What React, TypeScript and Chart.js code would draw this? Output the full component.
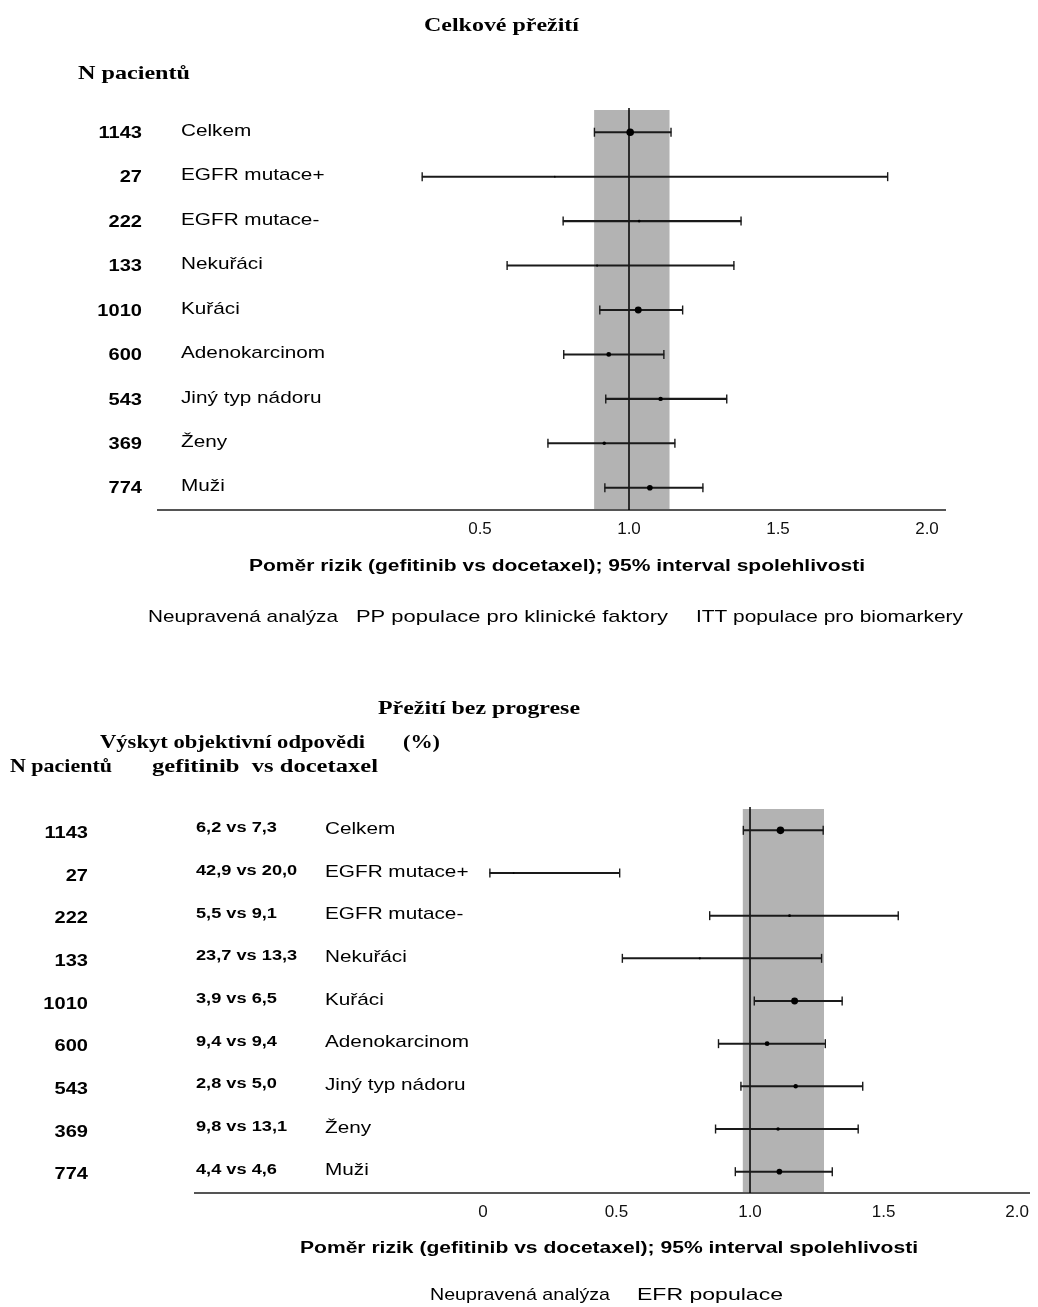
import React, { useEffect, useRef } from "react";
import { Chart, registerables } from "chart.js";

Chart.register(...registerables);

// ---------- DATA ----------
const categories = ["Celkem", "EGFR mutace+", "EGFR mutace-", "Nekuřáci", "Kuřáci", "Adenokarcinom", "Jiný typ nádoru", "Ženy", "Muži"];
const patients = [1143, 27, 222, 133, 1010, 600, 543, 369, 774];

// Overall survival (top)
const osHR = [1.004, 0.751, 1.034, 0.893, 1.031, 0.932, 1.106, 0.917, 1.07];
const osLow = [0.884, 0.306, 0.779, 0.591, 0.902, 0.781, 0.922, 0.728, 0.919];
const osHigh = [1.141, 1.868, 1.376, 1.352, 1.18, 1.117, 1.328, 1.154, 1.248];
const osBand = [0.883, 1.136];
const osTicks = [0.5, 1.0, 1.5, 2.0];

// Progression-free survival (bottom)
const pfsORR = ["6,2 vs 7,3", "42,9 vs 20,0", "5,5 vs 9,1", "23,7 vs 13,3", "3,9 vs 6,5", "9,4 vs 9,4", "2,8 vs 5,0", "9,8 vs 13,1", "4,4 vs 4,6"];
const pfsHR = [1.114, 0.115, 1.148, 0.812, 1.167, 1.064, 1.171, 1.105, 1.11];
const pfsLow = [0.975, 0.026, 0.849, 0.522, 1.016, 0.882, 0.966, 0.871, 0.945];
const pfsHigh = [1.274, 0.512, 1.555, 1.268, 1.345, 1.282, 1.422, 1.405, 1.308];
const pfsBand = [0.973, 1.277];
const pfsTicks = [0, 0.5, 1.0, 1.5, 2.0];

const SANS = "'Liberation Sans', Arial, sans-serif";
const SERIF = "'Liberation Serif', 'Times New Roman', serif";

function drawText(ctx: CanvasRenderingContext2D, text: string, x: number, y: number, font: string, align: CanvasTextAlign, sx = 1, width?: number) {
  ctx.save();
  ctx.font = font;
  ctx.fillStyle = "#000";
  ctx.textBaseline = "middle";
  ctx.textAlign = align;
  let s = sx;
  if (width) s = width / ctx.measureText(text).width;
  ctx.translate(x, y);
  ctx.scale(s, 1);
  ctx.fillText(text, 0, 0);
  ctx.restore();
}

type Cfg = {
  hr: number[];
  low: number[];
  high: number[];
  band: number[];
  ticks: number[];
  min: number;
  max: number;
  padding: { left: number; right: number; top: number; bottom: number };
  tickFmt: (v: number) => string;
  drawTexts: (ctx: CanvasRenderingContext2D, rowY: (i: number) => number) => void;
};

function makeChart(canvas: HTMLCanvasElement, cfg: Cfg) {
  const radius = patients.map((n) => 0.8 + 3 * (n / 1143));
  const overlay = {
    id: "forestOverlay",
    beforeDatasetsDraw(chart: any) {
      const { ctx, chartArea } = chart;
      const xs = chart.scales.x;
      const x0 = xs.getPixelForValue(cfg.band[0]);
      const x1 = xs.getPixelForValue(cfg.band[1]);
      ctx.save();
      ctx.fillStyle = "#b3b3b3";
      ctx.fillRect(x0, chartArea.top, x1 - x0, chartArea.bottom - chartArea.top - 1);
      const xr = xs.getPixelForValue(1);
      ctx.strokeStyle = "#000";
      ctx.lineWidth = 1.5;
      ctx.beginPath();
      ctx.moveTo(xr, chartArea.top - 2);
      ctx.lineTo(xr, chartArea.bottom);
      ctx.stroke();
      ctx.restore();
    },
    afterDraw(chart: any) {
      const ys = chart.scales.y;
      cfg.drawTexts(chart.ctx, (i: number) => ys.getPixelForValue(i));
    },
  };
  return new Chart(canvas, {
    type: "bar",
    data: {
      labels: categories,
      datasets: [
        {
          type: "line",
          indexAxis: "y",
          data: cfg.hr,
          showLine: false,
          pointStyle: "circle",
          pointRadius: radius,
          pointBackgroundColor: "#000",
          pointBorderWidth: 0,
          order: 0,
        } as any,
        {
          type: "line",
          indexAxis: "y",
          data: cfg.low,
          showLine: false,
          pointStyle: "line",
          rotation: 90,
          pointRadius: 4.5,
          pointBorderColor: "#1a1a1a",
          pointBorderWidth: 1.4,
          order: 1,
        } as any,
        {
          type: "line",
          indexAxis: "y",
          data: cfg.high,
          showLine: false,
          pointStyle: "line",
          rotation: 90,
          pointRadius: 4.5,
          pointBorderColor: "#1a1a1a",
          pointBorderWidth: 1.4,
          order: 1,
        } as any,
        {
          type: "bar",
          data: cfg.low.map((l, i) => [l, cfg.high[i]]),
          backgroundColor: "#1a1a1a",
          barThickness: 1.4,
          borderWidth: 0,
          order: 2,
        } as any,
      ],
    },
    options: {
      indexAxis: "y",
      responsive: false,
      animation: false,
      events: [],
      devicePixelRatio: 1,
      layout: { padding: cfg.padding },
      plugins: { legend: { display: false }, tooltip: { enabled: false } },
      scales: {
        x: {
          type: "linear",
          min: cfg.min,
          max: cfg.max,
          grid: { display: false, drawTicks: false },
          border: { display: true, color: "#555", width: 2 },
          afterBuildTicks: (s: any) => {
            s.ticks = cfg.ticks.map((v) => ({ value: v }));
          },
          afterFit: (s: any) => {
            s.height = 40;
          },
          ticks: {
            font: { family: SANS, size: 17 },
            color: "#111",
            padding: 9,
            autoSkip: false,
            maxRotation: 0,
            callback: (v: any) => cfg.tickFmt(Number(v)),
          },
        },
        y: { type: "category", display: false, offset: true },
      },
    } as any,
    plugins: [overlay],
  });
}

function App() {
  const topRef = useRef<HTMLCanvasElement>(null);
  const botRef = useRef<HTMLCanvasElement>(null);

  useEffect(() => {
    const top = makeChart(topRef.current!, {
      hr: osHR,
      low: osLow,
      high: osHigh,
      band: osBand,
      ticks: osTicks,
      min: 1 - 471 / 298,
      max: 1 + 316 / 298,
      padding: { left: 158, right: 93, top: 110, bottom: 100 },
      tickFmt: (v) => v.toFixed(1),
      drawTexts: (ctx, rowY) => {
        drawText(ctx, "Celkové přežití", 424, 26, `bold 19px ${SERIF}`, "left", 1, 155);
        drawText(ctx, "N pacientů", 78, 74, `bold 19px ${SERIF}`, "left", 1, 112);
        categories.forEach((c, i) => {
          const y = rowY(i);
          drawText(ctx, String(patients[i]), 142, y + 1, `bold 17px ${SANS}`, "right", 1.18);
          drawText(ctx, c, 181, y - 1, `17px ${SANS}`, "left", 1.22);
        });
        drawText(ctx, "Poměr rizik (gefitinib vs docetaxel); 95% interval spolehlivosti", 249, 567, `bold 16px ${SANS}`, "left", 1, 616);
        drawText(ctx, "Neupravená analýza", 148, 617, `17px ${SANS}`, "left", 1, 190);
        drawText(ctx, "PP populace pro klinické faktory", 356, 617, `17px ${SANS}`, "left", 1, 312);
        drawText(ctx, "ITT populace pro biomarkery", 696, 617, `17px ${SANS}`, "left", 1, 267);
      },
    });
    const OFF = 650;
    const bot = makeChart(botRef.current!, {
      hr: pfsHR,
      low: pfsLow,
      high: pfsHigh,
      band: pfsBand,
      ticks: pfsTicks,
      min: -(485 - 195) / 269,
      max: (1036 - 485) / 269,
      padding: { left: 195, right: 2, top: 159, bottom: 74 },
      tickFmt: (v) => (v === 0 ? "0" : v.toFixed(1)),
      drawTexts: (ctx, rowY) => {
        drawText(ctx, "Přežití bez progrese", 378, 709 - OFF, `bold 19px ${SERIF}`, "left", 1, 202);
        drawText(ctx, "Výskyt objektivní odpovědi", 100, 743 - OFF, `bold 19px ${SERIF}`, "left", 1, 265);
        drawText(ctx, "(%)", 403, 743 - OFF, `bold 19px ${SERIF}`, "left", 1, 37);
        drawText(ctx, "N pacientů", 10, 767 - OFF, `bold 19px ${SERIF}`, "left", 1, 102);
        drawText(ctx, "gefitinib  vs docetaxel", 152, 767 - OFF, `bold 19px ${SERIF}`, "left", 1, 226);
        categories.forEach((c, i) => {
          const y = rowY(i);
          drawText(ctx, String(patients[i]), 88, y + 3, `bold 17px ${SANS}`, "right", 1.18);
          drawText(ctx, pfsORR[i], 196, y - 2, `bold 14px ${SANS}`, "left", 1.3);
          drawText(ctx, c, 325, y - 1, `17px ${SANS}`, "left", 1.22);
        });
        drawText(ctx, "Poměr rizik (gefitinib vs docetaxel); 95% interval spolehlivosti", 300, 1249 - OFF, `bold 16px ${SANS}`, "left", 1, 618);
        drawText(ctx, "Neupravená analýza", 430, 1295 - OFF, `17px ${SANS}`, "left", 1, 180);
        drawText(ctx, "EFR populace", 637, 1295 - OFF, `17px ${SANS}`, "left", 1, 146);
      },
    });
    return () => {
      top.destroy();
      bot.destroy();
    };
  }, []);

  return (
    <div style={{ position: "absolute", left: 0, top: 0, width: 1038, height: 1307, background: "#fff", overflow: "hidden" }}>
      <canvas ref={topRef} width={1038} height={650} style={{ position: "absolute", left: 0, top: 0, width: 1038, height: 650 }} />
      <canvas ref={botRef} width={1038} height={657} style={{ position: "absolute", left: 0, top: 650, width: 1038, height: 657 }} />
    </div>
  );
}

export default App;
